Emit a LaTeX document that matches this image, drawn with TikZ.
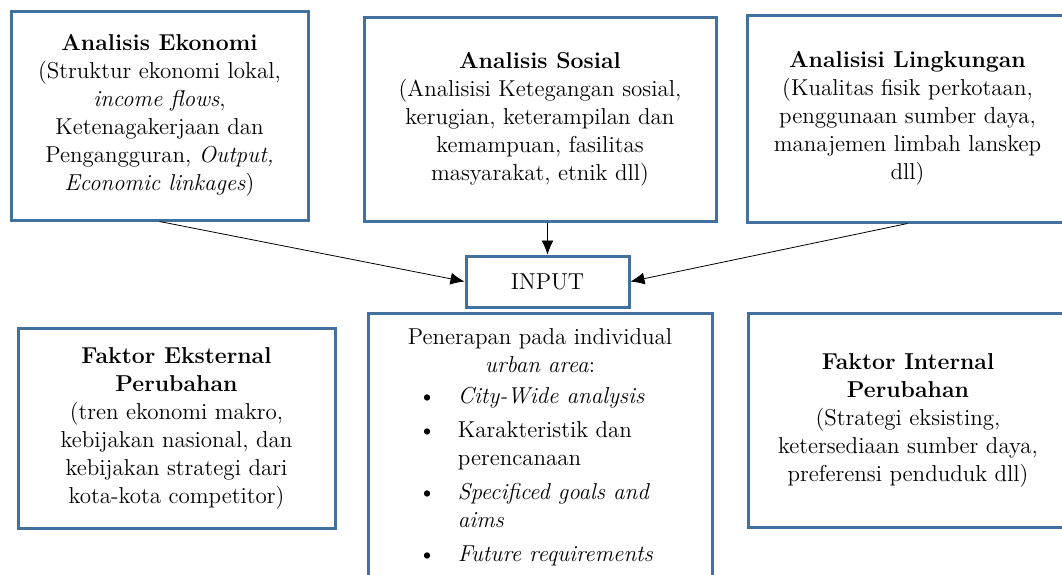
\documentclass[tikz,border=0pt]{standalone}
\usepackage{tikz}
\usetikzlibrary{arrows.meta,positioning}
\definecolor{garisbiru}{RGB}{65,113,156}
\tikzset{
    -{Latex[length=7pt,width=6pt]},semithick,
    x=0.5pt,y=-0.5pt,
    kotak/.style ={rectangle, draw=garisbiru, line width=1.5pt, align=center,
                   font=\fontsize{11.5}{14}\selectfont, inner sep=0pt},
    isi/.style = {inner sep=0pt, font=\fontsize{11.5}{14}\selectfont}
}

\begin{document}
\begin{tikzpicture}
    \path[use as bounding box, clip] (0,0) rectangle (1062,574);

    %% Analisis (baris atas)
    \node[kotak, minimum width=148.5pt, minimum height=104.5pt] (ekonomi) at (159.5,115.5)
        {\textbf{Analisis Ekonomi}\\(Struktur ekonomi lokal,\\\textit{income flows},\\Ketenagakerjaan dan\\Pengangguran, \textit{Output,}\\\textit{Economic linkages})};
    \node[kotak, minimum width=176pt, minimum height=102pt] (sosial) at (540,119)
        {\textbf{Analisis Sosial}\\(Analisisi Ketegangan sosial,\\kerugian, keterampilan dan\\kemampuan, fasilitas\\masyarakat, etnik dll)};
    \node[kotak, minimum width=160.5pt, minimum height=103.5pt] (lingkungan) at (907.5,118.5)
        {\textbf{Analisisi Lingkungan}\\(Kualitas fisik perkotaan,\\penggunaan sumber daya,\\manajemen limbah lanskep\\dll)};

    %% Input
    \node[kotak, minimum width=81.5pt, minimum height=25.5pt] (input) at (547.5,281.5) {INPUT};

    %% Faktor perubahan (baris bawah)
    \node[kotak, minimum width=158.5pt, minimum height=100pt] (eksternal) at (176.5,428)
        {\textbf{Faktor Eksternal}\\\textbf{Perubahan}\\(tren ekonomi makro,\\kebijakan nasional, dan\\kebijakan strategi dari\\kota-kota competitor)};
    \node[kotak, minimum width=160pt, minimum height=107pt] (internal) at (908,420)
        {\textbf{Faktor Internal}\\\textbf{Perubahan}\\(Strategi eksisting,\\ketersediaan sumber daya,\\preferensi penduduk dll)};

    %% Penerapan
    \node[kotak, minimum width=172pt, minimum height=138.5pt] (penerapan) at (540,451.5) {};
    \node[isi, anchor=base] (judul) at (540,344)
        {\begin{tabular}[t]{@{}c@{}}Penerapan pada individual\\\textit{urban area}:\end{tabular}};
    \node[isi, anchor=base west] (daftar) at (418,403)
        {\begin{tabular}[t]{@{}l@{\hspace{11pt}}l@{}}
        \textbullet & \textit{City-Wide analysis}\\[3pt]
        \textbullet & Karakteristik dan\\
                    & perencanaan\\[3pt]
        \textbullet & \textit{Specificed goals and}\\
                    & \textit{aims}\\[3pt]
        \textbullet & \textit{Future requirements}
        \end{tabular}};

    % Directed edge
    \path (ekonomi.south) edge (input.west);
    \path (sosial.south -| input.north) edge (input.north);
    \path (lingkungan.south) edge (input.east);
\end{tikzpicture}
\end{document}
